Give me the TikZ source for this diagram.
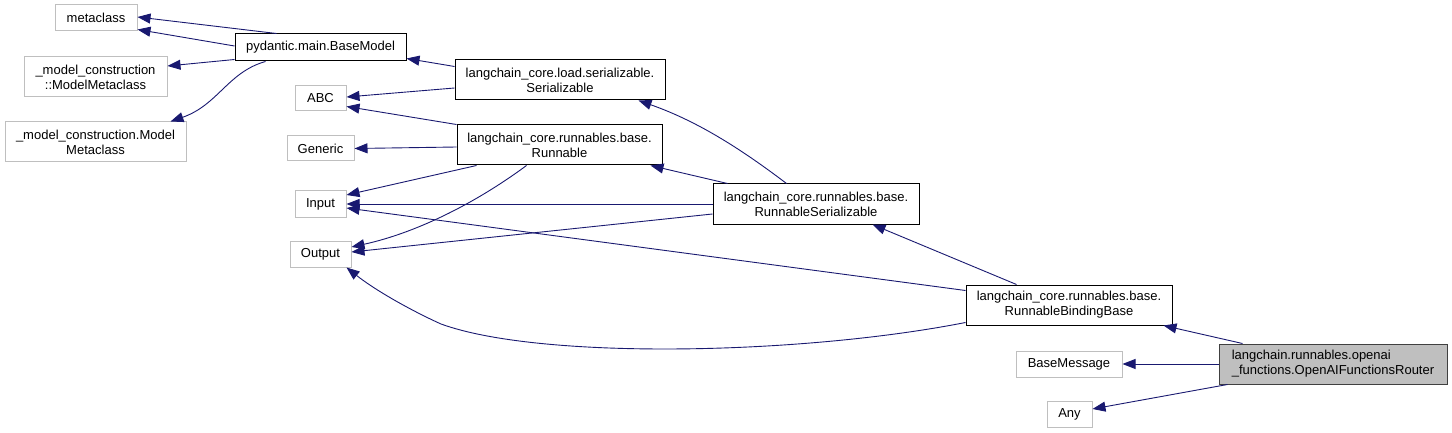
\documentclass[tikz,border=0pt]{standalone}
\usepackage{fontspec}
\setmainfont{Liberation Sans}
\usetikzlibrary{arrows.meta,calc}
\definecolor{eblue}{HTML}{191970}
\definecolor{gborder}{HTML}{BFBFBF}
\definecolor{gfill}{HTML}{BFBFBF}
\newcommand\dfs{\fontsize{13}{15}\selectfont}
\tikzset{
  gbox/.style={draw=gborder, line width=1pt, fill=white, inner sep=0pt, align=center, font=\dfs},
  bbox/.style={draw=black, line width=1pt, fill=white, inner sep=0pt, align=center, font=\dfs},
  cbox/.style={draw=black!75, line width=1pt, fill=gfill, inner sep=0pt, align=left, font=\dfs},
  inh/.style={draw=eblue, line width=0.9pt, -{Triangle[length=13pt,width=10pt]}},
}
\begin{document}
\begin{tikzpicture}[x=1pt,y=-1pt]
\useasboundingbox (0,0) rectangle (1452,433);
% nodes
\node[gbox, minimum width=82pt, minimum height=26pt] (mc) at (96,18) {metaclass};
\node[bbox, minimum width=171pt, minimum height=27pt] (bm) at (320.5,47.5) {pydantic.main.BaseModel};
\node[gbox, minimum width=143pt, minimum height=40pt] (mma) at (95.5,77) {\_model\_construction\\::ModelMetaclass};
\node[gbox, minimum width=181pt, minimum height=40pt] (mmb) at (95.5,142) {\_model\_construction.Model\\Metaclass};
\node[gbox, minimum width=51pt, minimum height=25pt] (abc) at (320.5,98.5) {ABC};
\node[gbox, minimum width=67pt, minimum height=25pt] (gen) at (320.5,148.5) {Generic};
\node[gbox, minimum width=51pt, minimum height=26pt] (inp) at (320.5,204) {Input};
\node[gbox, minimum width=61pt, minimum height=26pt] (outp) at (320.5,254) {Output};
\node[bbox, minimum width=210pt, minimum height=40pt] (ser) at (560,80) {langchain\_core.load.serializable.\\Serializable};
\node[bbox, minimum width=205pt, minimum height=40pt] (run) at (559.5,145) {langchain\_core.runnables.base.\\Runnable};
\node[bbox, minimum width=206pt, minimum height=40pt] (rs) at (816,204) {langchain\_core.runnables.base.\\RunnableSerializable};
\node[bbox, minimum width=206pt, minimum height=40pt] (rbb) at (1069,305) {langchain\_core.runnables.base.\\RunnableBindingBase};
\node[gbox, minimum width=106pt, minimum height=26pt] (bmsg) at (1069,364) {BaseMessage};
\node[gbox, minimum width=45pt, minimum height=26pt] (any) at (1069.5,414) {Any};
\node[cbox, minimum width=228pt, minimum height=40pt] (oai) at (1333,364) {langchain.runnables.openai\\\_functions.OpenAIFunctionsRouter};
% edges
\draw[inh] ($(bm.north west)+(42,0)$) -- ($(mc.east)+(0,-1)$);
\draw[inh] ($(bm.west)+(0,-1.5)$) -- ($(mc.south east)+(0,-2)$);
\draw[inh] ($(bm.south west)+(0,-2)$) -- ($(mma.east)+(0,-11)$);
\draw[inh] ($(bm.south west)+(31,0)$) .. controls (228,72) and (218,105) .. ($(mmb.north east)+(-16,0)$);
\draw[inh] ($(ser.north west)+(0,7)$) -- ($(bm.south east)+(0,-3)$);
\draw[inh] ($(ser.west)+(0,8)$) -- ($(abc.east)+(0,-1.5)$);
\draw[inh] (run.north west) -- ($(abc.south east)+(0,-5)$);
\draw[inh] ($(run.west)+(0,2)$) -- (gen.east);
\draw[inh] ($(run.south west)+(20,0)$) -- ($(inp.east)+(0,-9)$);
\draw[inh] ($(run.south west)+(70,0)$) .. controls (480,200) and (420,232) .. ($(outp.east)+(0,-7)$);
\draw[inh] (rs.west) -- (inp.east);
\draw[inh] ($(rs.west)+(0,10)$) -- ($(outp.east)+(0,-2)$);
\draw[inh] ($(rs.north west)+(74,0)$) .. controls (745,152) and (700,122) .. ($(ser.south east)+(-27,0)$);
\draw[inh] ($(rs.north west)+(15,0)$) -- ($(run.south east)+(-12,0)$);
\draw[inh] ($(rbb.north west)+(51,0)$) -- ($(rs.south east)+(-47,0)$);
\draw[inh] ($(rbb.north west)+(0,6)$) -- ($(inp.east)+(0,4)$);
\draw[inh] ($(rbb.south west)+(0,-3)$) .. controls (800,355) and (540,360) .. (441,324) .. controls (410,310) and (375,290) .. ($(outp.south east)+(-5,0)$);
\draw[inh] ($(oai.north west)+(24,0)$) -- ($(rbb.south east)+(-9,0)$);
\draw[inh] (oai.west) -- (bmsg.east);
\draw[inh] ($(oai.south west)+(9,0)$) -- ($(any.east)+(0,-5)$);
\end{tikzpicture}
\end{document}
